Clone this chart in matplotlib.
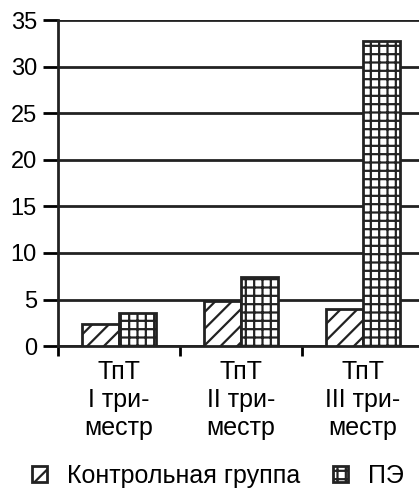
import matplotlib.pyplot as plt
import numpy as np

categories = ['ТпТ\nI три-\nместр', 'ТпТ\nII три-\nместр', 'ТпТ\nIII три-\nместр']
control = [2.4, 4.8, 4.0]
pe = [3.5, 7.4, 32.8]
series_names = ['Контрольная группа', 'ПЭ']

plt.rcParams['font.family'] = ['Liberation Sans', 'DejaVu Sans']
plt.rcParams['hatch.linewidth'] = 1.6

fig = plt.figure(figsize=(4.19, 4.93), dpi=100)
ax = fig.add_axes([0.138, 0.298, 0.862, 0.661])

x = np.arange(len(categories))
w = 0.305
ax.bar(x - w / 2, control, w, color='white', edgecolor='#222222', linewidth=2,
       hatch='//', label=series_names[0], zorder=3)
ax.bar(x + w / 2, pe, w, color='white', edgecolor='#222222', linewidth=2,
       hatch='++', label=series_names[1], zorder=3)

ax.set_ylim(0, 35)
ax.set_xlim(-0.5, 2.46)
ax.set_yticks(range(0, 36, 5))
ax.yaxis.grid(True, color='#222222', linewidth=2)
ax.set_axisbelow(True)

ax.set_xticks([-0.5, 0.5, 1.5])
ax.set_xticklabels([])
ax.set_xticks(x, minor=True)
ax.set_xticklabels(categories, minor=True, fontsize=18, linespacing=1.2)
ax.tick_params(axis='x', which='minor', length=0, pad=10)
ax.tick_params(axis='x', which='major', length=7, width=2, direction='out')
ax.tick_params(axis='y', length=11, width=2, labelsize=17, pad=4)

for s in ['top', 'right']:
    ax.spines[s].set_visible(False)
for s in ['left', 'bottom']:
    ax.spines[s].set_linewidth(2)
    ax.spines[s].set_color('#222222')

fig.legend(loc='lower center', bbox_to_anchor=(0.52, -0.035), ncol=2, frameon=False,
           fontsize=18, handlelength=0.6, handleheight=0.6, columnspacing=1.3,
           handletextpad=0.8)

fig.savefig('out.png', dpi=100)
